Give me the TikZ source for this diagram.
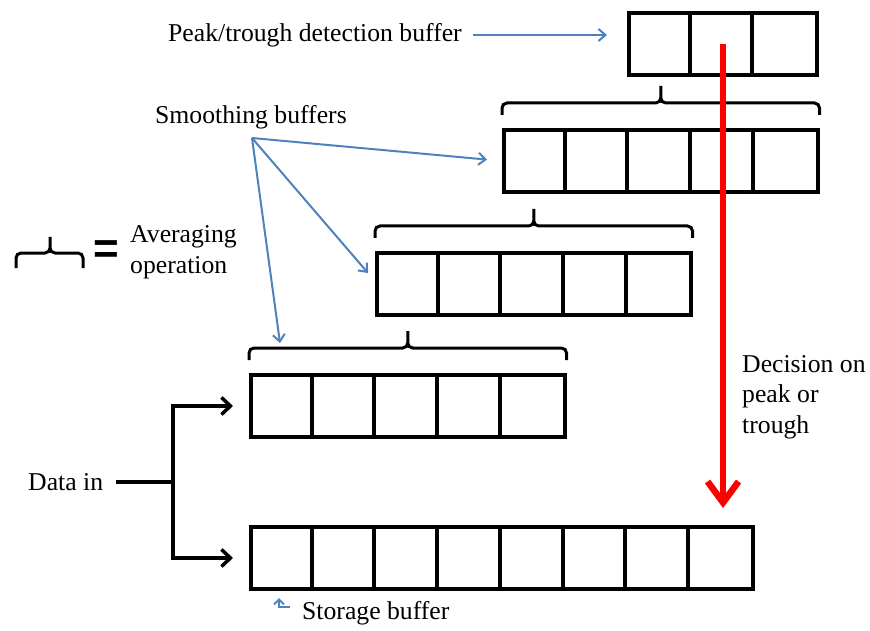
\documentclass[tikz,border=0pt]{standalone}
\usepackage{fontspec}
\setmainfont{Liberation Serif}
\setsansfont{Liberation Sans}
\usetikzlibrary{arrows.meta,positioning}
\definecolor{callout}{RGB}{79,129,189}

\begin{document}
\begin{tikzpicture}[x=1pt, y=-1pt,
  buffer/.style = {draw, line width=4pt, inner sep=0pt, minimum height=62pt, anchor=north west},
  lbl/.style = {font=\fontsize{25.7}{30.5}\selectfont, inner sep=0pt, align=left},
  brace/.style = {line width=3pt, rounded corners=5pt},
  note/.style = {draw=callout, line width=2pt, -{Straight Barb[length=7pt,width=12pt]}},
  feed/.style = {line width=3.5pt, -{Straight Barb[length=9pt,width=17pt]}},
  decide/.style = {draw=red, line width=6.5pt, -{Straight Barb[length=21pt,width=31pt]}}]
\useasboundingbox (0,0) rectangle (870,631);

\node[buffer, minimum width=188.1pt] (det) at (627,11) {};
\node[buffer, minimum width=313.5pt] (sm1) at (502,128) {};
\node[buffer, minimum width=313.5pt] (sm2) at (375,251) {};
\node[buffer, minimum width=313.5pt] (sm3) at (249,373) {};
\node[buffer, minimum width=501.6pt] (sto) at (249,525) {};
\foreach \b/\n in {det/2, sm1/4, sm2/4, sm3/4, sto/7}
  \foreach \i in {1,...,\n}
    \draw[line width=4pt] (\b.north west) ++(\i*62.7,0) -- ++(0,62);
\foreach \b in {sm1, sm2, sm3}
  \draw[brace] ([yshift=13pt]\b.north west) |- ([yshift=25pt]\b.north) -- ([yshift=42pt]\b.north)
    ([yshift=13pt]\b.north east) |- ([yshift=25pt]\b.north) -- ([yshift=42pt]\b.north);

\draw[brace] (16,268) |- (50,253) -- (50,237) (83,268) |- (50,253) -- (50,237);
\node[font=\fontsize{44}{44}\selectfont\sffamily\bfseries, inner sep=0pt] (eq) at (106,252) {=};
\node[lbl, right=11pt of eq] (avg) {Averaging\\operation};

\node[lbl, anchor=west] (pk) at (168,35) {Peak/trough detection buffer};
\node[lbl, anchor=west] (sm) at (155,117) {Smoothing buffers};
\node[lbl, anchor=west] (din) at (28,482) {Data in};
\node[lbl, anchor=west] (dec) at (742,397) {Decision on\\peak or\\trough};
\node[lbl, anchor=west] (st) at (302,613) {Storage buffer};

\coordinate (fan) at (252,138);
\coordinate (split) at (173,482);
\coordinate (stotip) at ([shift={(30,7)}]sto.south west);
\draw[note, shorten <=11pt, shorten >=20pt] (pk.east) -- (pk.east -| det.west);
\draw[note, shorten >=15pt] (fan) -- (sm1.west);
\draw[note] (fan) -- ([shift={(-7,22)}]sm2.north west);
\draw[note] (fan) -- ([shift={(31,-30)}]sm3.north west);
\draw[note, line width=2pt, -{Straight Barb[length=5pt,width=10pt]}] ([shift={(-12,-6)}]st.west) -| (stotip);
\draw[line width=3.5pt, shorten <=13pt] (din.east) -- (split);
\draw[feed, shorten >=16pt] (split) |- (sm3.west);
\draw[feed, shorten >=16pt] (split) |- (sto.west);
\draw[decide, shorten >=17pt] (det.center) -- (det.center |- sto.north);
\end{tikzpicture}
\end{document}
